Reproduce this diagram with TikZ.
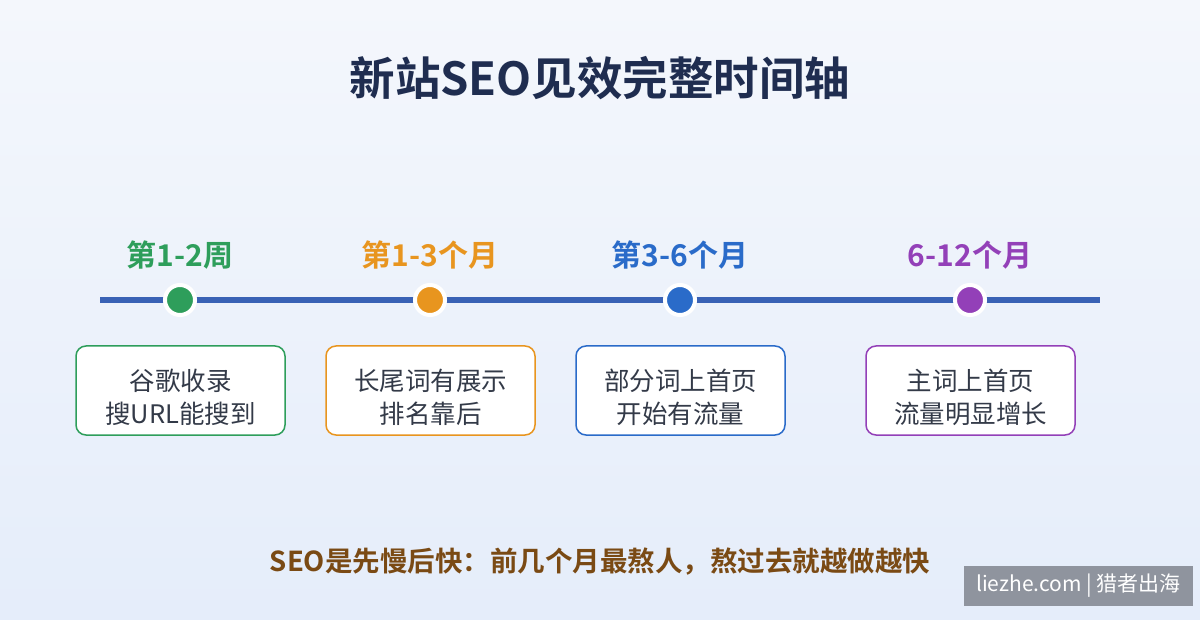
\documentclass[tikz,border=0pt]{standalone}
\usepackage{fontspec}
\setmainfont{Noto Sans CJK SC}[BoldFont={* Bold}]
\newcommand{\cardpad}{\rule{0pt}{36pt}}
\begin{document}
\begin{tikzpicture}[x=1pt,y=-1pt,
  lbl/.style={font=\bfseries\fontsize{30}{34}\selectfont},
  card/.style={draw=#1,line width=1.5pt,rounded corners=10pt,fill=white,minimum width=209pt,minimum height=89pt,align=center,text=txt,font=\fontsize{25.5}{33}\selectfont,inner sep=0pt},
  dot/.style={circle,fill=#1,draw=white,line width=4pt,minimum size=30pt,inner sep=0pt}]
\definecolor{cg}{HTML}{2E9E5B}\definecolor{co}{HTML}{E8951F}
\definecolor{cb}{HTML}{2A6BC9}\definecolor{cp}{HTML}{9340B8}
\definecolor{txt}{HTML}{333A48}\definecolor{ln}{HTML}{3A62B5}
\definecolor{ttl}{HTML}{1F2D50}
\definecolor{bgt}{HTML}{F4F7FC}\definecolor{bgb}{HTML}{E5EDFA}
\shade[top color=bgt,bottom color=bgb] (0,0) rectangle (1200,620);
\useasboundingbox (0,0) rectangle (1200,620);
\node[font=\bfseries\fontsize{45.5}{52}\selectfont,text=ttl] (title) at (600,78) {新站SEO见效完整时间轴};
\coordinate (ls) at (100,300); \coordinate (le) at (1100,300);
\draw[ln,line width=6pt] (ls) -- (le);
\node[dot=cg] (d1) at (180,300) {};
\node[dot=co] (d2) at (430,300) {};
\node[dot=cb] (d3) at (680,300) {};
\node[dot=cp] (d4) at (970,300) {};
\node[lbl,text=cg] (l1) at (180,255) {第1-2周};
\node[lbl,text=co] (l2) at (430,255) {第1-3个月};
\node[lbl,text=cb] (l3) at (680,255) {第3-6个月};
\node[lbl,text=cp] (l4) at (970,255) {6-12个月};
\node[card=cg] (c1) at (180.5,390.5) {\cardpad 谷歌收录\\搜URL能搜到};
\node[card=co] (c2) at (430.5,390.5) {\cardpad 长尾词有展示\\排名靠后};
\node[card=cb] (c3) at (680.5,390.5) {\cardpad 部分词上首页\\开始有流量};
\node[card=cp] (c4) at (970.5,390.5) {\cardpad 主词上首页\\流量明显增长};
\node[font=\bfseries\fontsize{27.5}{30}\selectfont,text={rgb,255:red,122;green,74;blue,20}] (note) at (600,562) {SEO是先慢后快：前几个月最熬人，熬过去就越做越快};
\node[fill={rgb,255:red,143;green,148;blue,158},text=white,minimum width=229pt,minimum height=40pt,inner sep=0pt,font=\fontsize{21}{24}\selectfont] (wm) at (1078.5,586) {liezhe.com | 猎者出海};
\end{tikzpicture}
\end{document}
